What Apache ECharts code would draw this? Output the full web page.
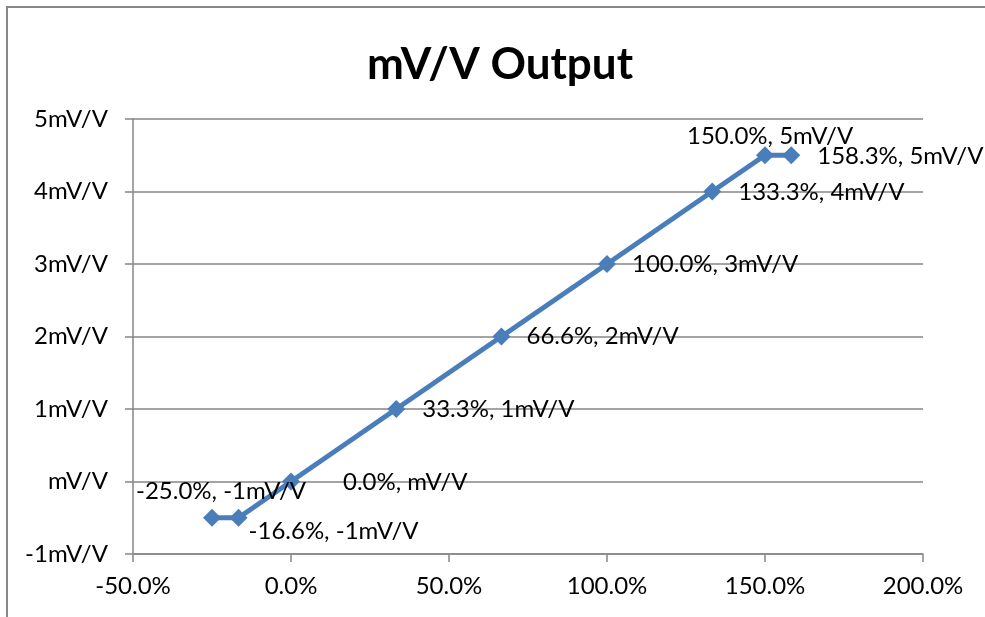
<!DOCTYPE html>
<html>
<head>
<meta charset="utf-8">
<script src="https://cdn.jsdelivr.net/npm/echarts@6/dist/echarts.min.js"></script>
<style>
html,body{margin:0;padding:0;background:#fff;}
#chart{width:985px;height:617px;}
</style>
</head>
<body>
<div id="chart"></div>
<script>
// Data
const titleText = 'mV/V Output';
const xPercent = [-25.0, -16.6, 0.0, 33.3, 66.6, 100.0, 133.3, 150.0, 158.3];
const yMvV = [-0.5, -0.5, 0, 1, 2, 3, 4, 4.5, 4.5];
const xTicks = [-50, 0, 50, 100, 150, 200];
const yTicks = [-1, 0, 1, 2, 3, 4, 5];

// Label placement (style only): [dx, dy] from point centre to text start / middle
const labelOffsets = [[-76, -26], [10, 14], [52, 1], [26, 0], [25, 0], [25, 0], [26, 1], [-78, -19], [26, 1]];

const FONT = 'Lato, "Open Sans", sans-serif';
const FS = 24;

function fmtY(v) {
  const r = Math.sign(v) * Math.round(Math.abs(v));
  return (r === 0 ? '' : String(r)) + 'mV/V';
}
function fmtX(v) { return v.toFixed(1) + '%'; }

const data = xPercent.map((x, i) => ({
  value: [x, yMvV[i]],
  label: { offset: labelOffsets[i] }
}));

const chart = echarts.init(document.getElementById('chart'), null, { renderer: 'canvas' });
chart.setOption({
  animation: false,
  backgroundColor: '#fff',
  graphic: [{
    type: 'rect', silent: true,
    shape: { x: 7, y: 7, width: 1200, height: 900 },
    style: { fill: 'none', stroke: '#888888', lineWidth: 2 }
  }],
  title: {
    text: titleText, left: 495, top: 38, textAlign: 'center',
    textStyle: { fontFamily: FONT, fontWeight: 'bold', fontSize: 44, color: '#000' }
  },
  grid: { left: 133, right: 62, top: 119, bottom: 63, containLabel: false },
  xAxis: {
    type: 'value', min: xTicks[0], max: xTicks[xTicks.length - 1], interval: 50,
    axisLine: { show: true, onZero: false, lineStyle: { color: '#868686', width: 1.5 } },
    axisTick: { show: true, inside: false, length: 8, lineStyle: { color: '#868686', width: 1.5 } },
    splitLine: { show: false },
    axisLabel: { formatter: fmtX, color: '#000', fontFamily: FONT, fontSize: FS, margin: 20 }
  },
  yAxis: {
    type: 'value', min: yTicks[0], max: yTicks[yTicks.length - 1], interval: 1,
    axisLine: { show: true, onZero: false, lineStyle: { color: '#868686', width: 1.5 } },
    axisTick: { show: true, inside: false, length: 8, lineStyle: { color: '#868686', width: 1.5 } },
    splitLine: { show: true, lineStyle: { color: '#868686', width: 1.5 } },
    axisLabel: { formatter: fmtY, color: '#000', fontFamily: FONT, fontSize: FS, margin: 25 }
  },
  series: [{
    type: 'line',
    data: data,
    symbol: 'diamond', symbolSize: 18,
    itemStyle: { color: '#4A7EBB' },
    lineStyle: { color: '#4A7EBB', width: 5 },
    label: {
      show: true, position: 'inside', align: 'left', verticalAlign: 'middle',
      color: '#000', fontFamily: FONT, fontSize: FS,
      formatter: p => fmtX(p.value[0]) + ', ' + fmtY(p.value[1])
    },
    z: 3
  }]
});
</script>
</body>
</html>
